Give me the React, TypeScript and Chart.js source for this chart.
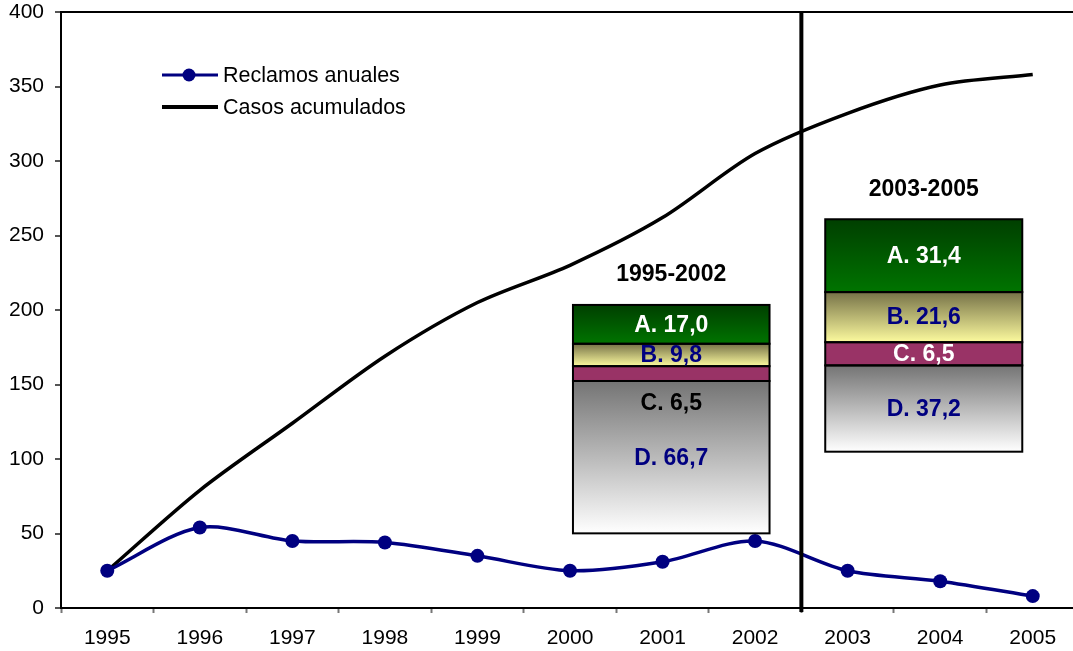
import { useEffect, useRef } from 'react';
import { Chart, registerables } from 'chart.js';

Chart.register(...registerables);

// ---- data ----
const years = ['1995', '1996', '1997', '1998', '1999', '2000', '2001', '2002', '2003', '2004', '2005'];
const reclamosAnuales = [25, 54, 45, 44, 35, 25, 31, 45, 25, 18, 8];
const casosAcumulados = [25, 79, 124, 169, 205, 230, 262, 305, 332, 351, 358];
const yTickValues = [0, 50, 100, 150, 200, 250, 300, 350, 400];
const seriesNames = ['Reclamos anuales', 'Casos acumulados'];
const segmentNames = ['A', 'B', 'C', 'D'];
const periodNames = ['1995-2002', '2003-2005'];
const shares19952002 = [17.0, 9.8, 6.5, 66.7];
const shares20032005 = [31.4, 21.6, 6.5, 37.2];
const drawnShares20032005 = [31.4, 21.6, 10.0, 37.2];
const divisionIndex = 7.5; // between 2002 and 2003

// ---- styles / layout ----
const FONT = '"Liberation Sans", Arial, Helvetica, sans-serif';
const NAVY = '#000080';
const segmentGradients: [string, string][] = [
  ['#003f00', '#007400'],
  ['#767248', '#fcfa9e'],
  ['#993366', '#993366'],
  ['#747474', '#ffffff'],
];

const boxes = [
  {
    title: periodNames[0],
    shares: shares19952002,
    drawn: shares19952002,
    x0: 5.032, x1: 7.156, yBottom: 50.1, yTop: 203.4,
    labelColors: ['#ffffff', NAVY, '#000000', NAVY],
    cBelow: true,
  },
  {
    title: periodNames[1],
    shares: shares20032005,
    drawn: drawnShares20032005,
    x0: 7.758, x1: 9.887, yBottom: 104.9, yTop: 260.9,
    labelColors: ['#ffffff', NAVY, '#ffffff', NAVY],
    cBelow: false,
  },
];

const fmt = (v: number) => v.toFixed(1).replace('.', ',');

const overlayPlugin = {
  id: 'overlay',
  afterDatasetsDraw(chart: any) {
    const ctx: CanvasRenderingContext2D = chart.ctx;
    const xs = chart.scales.x;
    const ys = chart.scales.y;
    const area = chart.chartArea;

    // boxes
    boxes.forEach((b) => {
      const left = xs.getPixelForValue(b.x0);
      const right = xs.getPixelForValue(b.x1);
      const total = b.drawn.reduce((s, v) => s + v, 0);
      let cur = b.yTop;
      const rects: { top: number; bottom: number }[] = [];
      b.drawn.forEach((v, i) => {
        const next = cur - (v / total) * (b.yTop - b.yBottom);
        const top = ys.getPixelForValue(cur);
        const bottom = ys.getPixelForValue(next);
        rects.push({ top, bottom });
        const g = ctx.createLinearGradient(0, top, 0, bottom);
        g.addColorStop(0, segmentGradients[i][0]);
        g.addColorStop(1, segmentGradients[i][1]);
        ctx.save();
        ctx.fillStyle = g;
        ctx.fillRect(left, top, right - left, bottom - top);
        ctx.restore();
        cur = next;
      });
      ctx.save();
      ctx.strokeStyle = '#000';
      ctx.lineWidth = 2;
      rects.forEach((r) => ctx.strokeRect(left, r.top, right - left, r.bottom - r.top));
      ctx.restore();

      // labels
      ctx.save();
      ctx.font = `bold 23px ${FONT}`;
      ctx.textAlign = 'center';
      ctx.textBaseline = 'middle';
      const cx = (left + right) / 2;
      ctx.fillStyle = '#000';
      ctx.fillText(b.title, cx, rects[0].top - 30);
      b.shares.forEach((v, i) => {
        let cy = (rects[i].top + rects[i].bottom) / 2;
        if (i === 2 && b.cBelow) cy = rects[2].bottom + 22;
        ctx.fillStyle = b.labelColors[i];
        ctx.fillText(`${segmentNames[i]}. ${fmt(v)}`, cx, cy + 1);
      });
      ctx.restore();
    });

    // vertical division line
    const vx = xs.getPixelForValue(divisionIndex);
    ctx.save();
    ctx.strokeStyle = '#000';
    ctx.lineWidth = 4;
    ctx.beginPath();
    ctx.moveTo(vx, area.top);
    ctx.lineTo(vx, area.bottom + 4);
    ctx.stroke();
    ctx.restore();

    // legend
    ctx.save();
    ctx.lineCap = 'butt';
    ctx.strokeStyle = NAVY;
    ctx.lineWidth = 3;
    ctx.beginPath();
    ctx.moveTo(162, 75);
    ctx.lineTo(218, 75);
    ctx.stroke();
    ctx.fillStyle = NAVY;
    ctx.beginPath();
    ctx.arc(189, 75, 6.5, 0, Math.PI * 2);
    ctx.fill();
    ctx.strokeStyle = '#000';
    ctx.lineWidth = 4;
    ctx.beginPath();
    ctx.moveTo(162, 107);
    ctx.lineTo(218, 107);
    ctx.stroke();
    ctx.fillStyle = '#000';
    ctx.font = `21.5px ${FONT}`;
    ctx.textAlign = 'left';
    ctx.textBaseline = 'middle';
    ctx.fillText(seriesNames[0], 223, 76);
    ctx.fillText(seriesNames[1], 223, 108);
    ctx.restore();
  },
};

export default function App() {
  const ref = useRef<HTMLCanvasElement | null>(null);

  useEffect(() => {
    if (!ref.current) return;
    const chart = new Chart(ref.current, {
      type: 'line',
      data: {
        labels: years,
        datasets: [
          {
            label: seriesNames[0],
            data: reclamosAnuales,
            borderColor: NAVY,
            backgroundColor: NAVY,
            borderWidth: 3.5,
            pointRadius: 7,
            pointBackgroundColor: NAVY,
            pointBorderWidth: 0,
            tension: 0.3,
          },
          {
            label: seriesNames[1],
            data: casosAcumulados,
            borderColor: '#000',
            backgroundColor: '#000',
            borderWidth: 3.5,
            pointRadius: 0,
            tension: 0.3,
          },
        ],
      },
      options: {
        responsive: false,
        animation: false,
        devicePixelRatio: 1,
        layout: { padding: { top: 12, right: 11, left: 0, bottom: 0 } },
        plugins: {
          legend: { display: false },
          tooltip: { enabled: false },
        },
        scales: {
          x: {
            offset: true,
            grid: {
              offset: true,
              drawOnChartArea: false,
              drawTicks: true,
              tickLength: 5,
              tickColor: '#777',
              tickWidth: 2,
            },
            border: { display: true, color: '#000', width: 2 },
            ticks: {
              color: '#000',
              font: { family: FONT, size: 21 },
              padding: 13,
              maxRotation: 0,
              autoSkip: false,
            },
            afterFit: (s: any) => {
              s.height = 43;
              s.paddingLeft = 0;
              s.paddingRight = 0;
            },
          },
          y: {
            min: 0,
            max: 400,
            afterBuildTicks: (s: any) => { s.ticks = yTickValues.map((v) => ({ value: v })); },
            grid: {
              color: (c: any) => (c.tick && c.tick.value === 400 ? '#000' : 'rgba(0,0,0,0)'),
              lineWidth: 2,
              drawTicks: true,
              tickLength: 6,
              tickColor: '#555',
              tickWidth: 2,
            },
            border: { display: true, color: '#000', width: 2 },
            ticks: {
              color: '#000',
              font: { family: FONT, size: 21 },
              padding: 11,
            },
            afterFit: (s: any) => {
              s.width = 61;
              s.paddingTop = 0;
              s.paddingBottom = 0;
            },
          },
        },
      },
      plugins: [overlayPlugin],
    });
    return () => chart.destroy();
  }, []);

  return (
    <div style={{ position: 'absolute', left: 0, top: 0, width: 1073, height: 651, overflow: 'hidden', background: '#fff' }}>
      <canvas ref={ref} width={1090} height={651} style={{ width: 1090, height: 651, display: 'block' }} />
    </div>
  );
}
